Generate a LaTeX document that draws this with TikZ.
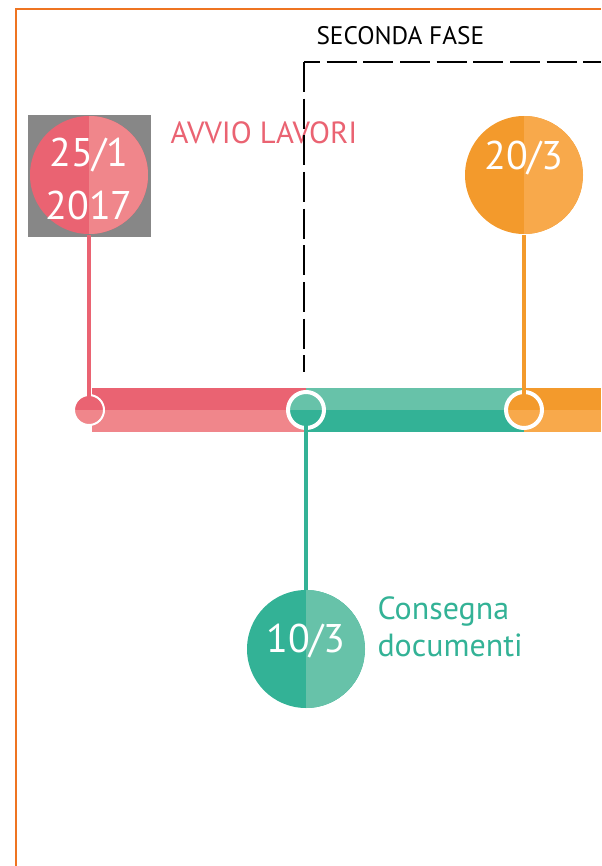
\documentclass[tikz,border=0pt]{standalone}
\usepackage{fontspec}
\setmainfont{PT Sans}
\definecolor{pinkdark}{HTML}{EA6372}
\definecolor{pinklight}{HTML}{F0868B}
\definecolor{tealdark}{HTML}{33B296}
\definecolor{teallight}{HTML}{67C2A9}
\definecolor{orangedark}{HTML}{F39A2C}
\definecolor{orangelight}{HTML}{F8A94B}
\definecolor{framecol}{HTML}{EE7421}
\definecolor{boxgray}{HTML}{878787}

\tikzset{every picture/.style={line width=0.75pt}}
\tikzset{
  datedot/.style={circle, minimum size=88.5pt, inner sep=0pt, fill=#1dark,
    path picture={\fill[#1light] (path picture bounding box.north) rectangle (path picture bounding box.south east);}},
  bardot/.style 2 args={circle, minimum size=27pt, inner sep=0pt, draw=white, line width=3pt, fill=#1,
    path picture={\fill[#2] (path picture bounding box.west) rectangle (path picture bounding box.south east);}},
  datetext/.style={text=white, inner sep=0pt, align=center, font=\fontsize{30}{40}\selectfont},
  stem/.style={line width=3.5pt},
  phase/.style={line width=2pt, dash pattern=on 22.5pt off 5pt},
}

\begin{document}
\begin{tikzpicture}[x=0.75pt,y=0.75pt,yscale=-1,xscale=1]
\useasboundingbox (0,0) rectangle (601,866);

% Frame
\draw [color=framecol][line width=2pt] (16,866) -- (16,9) -- (601,9) ;

% Bar
\fill [pinkdark] (92,388) rectangle (306,410) ;
\fill [pinklight] (92,410) rectangle (306,432) ;
\fill [teallight] (306,388) rectangle (524,410) ;
\fill [tealdark] (306,410) rectangle (524,432) ;
\fill [orangedark] (524,388) rectangle (601,410) ;
\fill [orangelight] (524,410) rectangle (601,432) ;

% Bar Nodes
\node (b1) at (89,410) [bardot={pinkdark}{pinklight}, minimum size=22.5pt, line width=1.5pt] {};
\node (b2) at (306,410) [bardot={teallight}{tealdark}] {};
\node (b3) at (524,410) [bardot={orangedark}{orangelight}] {};

% Date Circles
\fill [boxgray] (28,115) rectangle (151,237) ;
\node (d1) at (89,175) [datedot=pink] {};
\node (d2) at (306,649) [datedot=teal] {};
\node (d3) at (524,175) [datedot=orange] {};

% Connection
\draw [pinkdark][stem] (d1) -- (b1.center) ;
\draw [tealdark][stem] (d2) -- (b2.center) ;
\draw [orangedark][stem] (d3) -- (b3.center) ;

% Text Node
\node (t1) at (89,179) [datetext] {25/1\\2017};
\node (t2) at (306,641) [datetext] {10/3};
\node (t3) at (524,158) [datetext] {20/3};

% Text Node
\node (avvio) at (170,133) [anchor=west][inner sep=0pt][text=pinkdark][font=\fontsize{23}{28}\selectfont] {AVVIO LAVORI};
\node (consegna) at (377,627) [anchor=west][inner sep=0pt][align=left][text=tealdark][font=\fontsize{24}{28}\selectfont] {Consegna\\documenti};
\node (fase) at (316,36) [anchor=west][inner sep=0pt][font=\fontsize{19}{23}\selectfont] {SECONDA FASE};

% Second Phase
\coordinate (dashbot) at (304,372);
\coordinate (dashcorner) at (304,62);
\coordinate (dashend) at (601,62);
\draw [phase] (dashcorner) -- (dashbot) ;
\draw [phase][dash phase=10.5pt] (dashcorner) -- (dashend) ;

\end{tikzpicture}
\end{document}
